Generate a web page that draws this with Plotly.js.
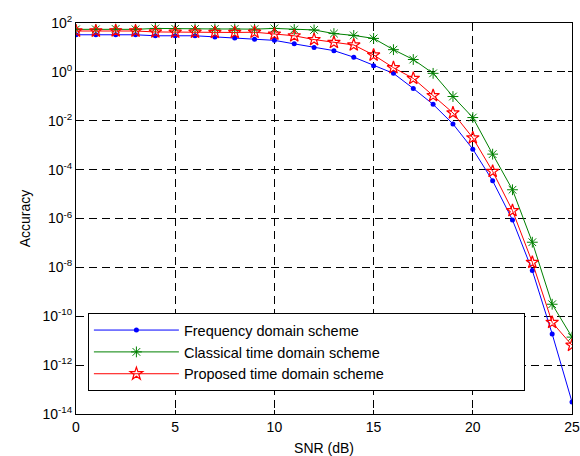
<!DOCTYPE html>
<html>
<head>
<meta charset="utf-8">
<script src="https://cdn.plot.ly/plotly-3.0.1.min.js"></script>
<style>html,body{margin:0;padding:0;background:#fff;}#chart{width:580px;height:456px;}</style>
</head>
<body>
<div id="chart"></div>
<script>
const snr = [0,1,2,3,4,5,6,7,8,9,10,11,12,13,14,15,16,17,18,19,20,21,22,23,24,25];
const freqDomain = [33,33,33,33,30,30,30,27,24.5,21.5,19.5,14,10,7.4,4.0,1.8,0.87,0.21,0.047,0.0074,6.9e-4,3.5e-5,8.7e-7,7.4e-9,1.9e-11,3.1e-14];
const classicalTime = [55,55,57,55,60,58,57,57,57,56,60,54,52,37,31,23.4,8.1,3.2,0.87,0.098,0.0135,4.3e-4,1.5e-5,1.07e-7,3.1e-10,1.4e-11];
const proposedTime = [47,47,48,47,43,42,42,41,41,42,35,30,21,16,12.6,4.9,1.48,0.54,0.107,0.021,0.002,8.5e-5,2.1e-6,1.6e-8,5.6e-11,6.5e-12];
const seriesNames = ["Frequency domain scheme","Classical time domain scheme","Proposed time domain scheme"];
const yTickVals = [1e-14,1e-12,1e-10,1e-8,1e-6,1e-4,1e-2,1,1e2];
const yTickText = ["10<sup>-14</sup>","10<sup>-12</sup>","10<sup>-10</sup>","10<sup>-8</sup>","10<sup>-6</sup>","10<sup>-4</sup>","10<sup>-2</sup>","10<sup>0</sup>","10<sup>2</sup>"];
const xTickVals = [0,5,10,15,20,25];

const font = "Liberation Sans, Arial, sans-serif";
const traces = [
  {x: snr, y: freqDomain, name: seriesNames[0], mode: "lines+markers",
   line: {color: "#0000ff", width: 1}, marker: {symbol: "circle", size: 5, color: "#0000ff"}},
  {x: snr, y: classicalTime, name: seriesNames[1], mode: "lines+markers",
   line: {color: "#008000", width: 1}, marker: {symbol: "asterisk-open", size: 9, color: "#008000", line: {color: "#008000", width: 1}}},
  {x: snr, y: proposedTime, name: seriesNames[2], mode: "lines+markers",
   line: {color: "#ff0000", width: 1}, marker: {symbol: "star-open", size: 9.5, color: "#ff0000", line: {color: "#ff0000", width: 1.2}}}
];
const layout = {
  width: 580, height: 456,
  margin: {l: 76, r: 8, t: 23, b: 42, pad: 0, autoexpand: false},
  paper_bgcolor: "#fff", plot_bgcolor: "#fff",
  font: {family: font, size: 14, color: "#000"},
  showlegend: true,
  legend: {orientation: "h", x: 0.024, y: 0.258, xanchor: "left", yanchor: "top", bgcolor: "#fff",
    bordercolor: "#000", borderwidth: 1, font: {family: font, size: 14.5, color: "#000"},
    tracegroupgap: 0, itemwidth: 85, entrywidth: 335, entrywidthmode: "pixels"},
  xaxis: {range: [0, 25], tickvals: xTickVals, showline: true, mirror: "all", linecolor: "#000", linewidth: 1,
    ticks: "inside", ticklen: 4, tickcolor: "#000", showgrid: true, gridcolor: "#000", gridwidth: 1, griddash: "8px,5px",
    zeroline: false, automargin: false, tickfont: {size: 14}, title: {text: "SNR (dB)", font: {size: 14}, standoff: 10}},
  yaxis: {type: "log", range: [-14, 2], tickvals: yTickVals, ticktext: yTickText, showline: true, mirror: "all",
    linecolor: "#000", linewidth: 1, ticks: "inside", ticklen: 4, tickcolor: "#000",
    showgrid: true, gridcolor: "#000", gridwidth: 1, griddash: "8px,5px", zeroline: false, automargin: false,
    tickfont: {size: 14}, title: {text: "Accuracy", font: {size: 14}, standoff: 8}}
};
Plotly.newPlot("chart", traces, layout, {displayModeBar: false, staticPlot: true});
</script>
</body>
</html>
